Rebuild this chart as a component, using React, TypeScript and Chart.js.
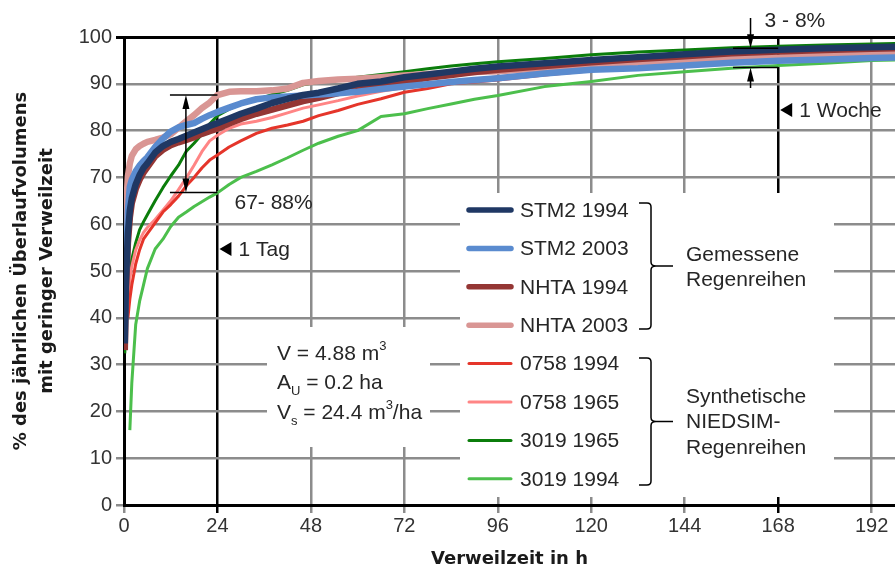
import React, { useEffect, useRef } from 'react';
import { Chart, registerables } from 'chart.js';

Chart.register(...registerables);

// ---------- data ----------
const hours = [0.2, 0.5, 1, 1.5, 2, 3, 4, 5, 6, 8, 10, 12, 14, 16, 18, 20, 22, 24, 27, 30, 34, 38, 42, 46, 50, 55, 60, 66, 72, 78, 84, 90, 96, 108, 120, 132, 144, 156, 168, 180, 192, 198];

const stm2_1994 = [34.5, 48, 58, 63, 65.5, 68.5, 70.5, 72, 73, 75.3, 76.7, 77.6, 78.2, 78.9, 79.6, 80.3, 81, 81.6, 82.6, 83.6, 84.7, 85.9, 86.8, 87.6, 88.1, 89, 90, 90.5, 91.4, 92, 92.6, 93.2, 93.7, 94.4, 95.1, 95.7, 96.3, 96.9, 97.3, 97.6, 97.8, 97.9];
const stm2_2003 = [38, 50, 63, 68, 69.5, 71.3, 72.5, 73.5, 74.3, 76.5, 78.3, 79.8, 80.7, 81.2, 81.6, 82.5, 83.3, 84, 84.9, 85.8, 86.7, 87.1, 87.3, 87.5, 87.7, 88, 88.3, 88.9, 89.4, 89.9, 90.4, 90.8, 91.2, 92.2, 93, 93.3, 93.9, 94.5, 94.9, 95.2, 95.5, 95.6];
const nhta_1994 = [33.1, 46, 56, 61.5, 64.5, 67.5, 69.5, 71, 72.2, 74.5, 75.9, 76.9, 77.5, 78, 78.6, 79.3, 79.9, 80.4, 81.5, 82.5, 83.6, 84.5, 85.4, 86.3, 87, 88, 88.9, 89.7, 90.5, 91.3, 91.9, 92.5, 93, 93.8, 94.6, 95.3, 95.9, 96.5, 96.9, 97.2, 97.5, 97.6];
const nhta_2003 = [57.3, 63, 70.2, 73, 74.6, 76, 76.7, 77.2, 77.6, 78, 78.5, 79.2, 80.6, 82, 83.3, 84.8, 86, 87.6, 88.3, 88.4, 88.4, 88.6, 89, 90.2, 90.6, 90.9, 91.1, 91.4, 91.8, 92.1, 92.3, 92.5, 92.7, 93.3, 94, 94.5, 95, 95.3, 95.6, 96, 96.3, 96.4];
const s0758_1994 = [null, null, 40, 44, 47, 51.5, 54.5, 56.8, 58, 60.3, 62.6, 64.2, 66, 68.2, 70, 72, 73.7, 74.8, 76.5, 77.8, 79.4, 80.5, 81.2, 82, 83.2, 84.3, 85.6, 86.8, 88.2, 89, 90, 90.4, 90.8, 91.9, 92.8, 93.8, 94.5, 95.1, 95.7, 96.2, 96.7, 96.9];
const s0758_1965 = [null, null, 45, 48.5, 51, 54.5, 56.6, 58.2, 59.3, 61, 63, 65, 67.4, 69.9, 72.6, 75.5, 77.8, 79, 80.5, 81.4, 82, 82.8, 83.8, 84.8, 85.5, 86.4, 87.4, 88.4, 89.2, 89.9, 90.5, 91, 91.5, 92.3, 93, 93.6, 94.2, 94.7, 95.1, 95.5, 95.9, 96];
const s3019_1965 = [32.4, 38, 45, 49.5, 52.5, 56, 58.8, 60.5, 62, 65, 67.8, 70.3, 72.6, 75.6, 77.3, 79.2, 81.4, 83.2, 84.6, 85.6, 86.6, 87.7, 88.6, 89.8, 90.4, 90.9, 91.4, 92, 92.6, 93.2, 93.8, 94.3, 94.7, 95.4, 96.2, 96.8, 97.2, 97.7, 98, 98.3, 98.5, 98.6];
const s3019_1994 = [null, null, null, 16, 26, 38.5, 43.5, 47, 50.5, 54.7, 56.8, 59.5, 61.5, 62.6, 63.8, 64.8, 65.8, 66.7, 68.5, 70, 71.3, 72.7, 74.2, 75.8, 77.3, 78.8, 80, 83, 83.6, 84.7, 85.7, 86.7, 87.5, 89.4, 90.5, 91.8, 92.6, 93.3, 93.9, 94.4, 95, 95.1];

const seriesLabels = ['STM2 1994', 'STM2 2003', 'NHTA 1994', 'NHTA 2003', '0758 1994', '0758 1965', '3019 1965', '3019 1994'];
const seriesValues = [stm2_1994, stm2_2003, nhta_1994, nhta_2003, s0758_1994, s0758_1965, s3019_1965, s3019_1994];

const xTicks = [0, 24, 48, 72, 96, 120, 144, 168, 192];
const yTicks = [0, 10, 20, 30, 40, 50, 60, 70, 80, 90, 100];
const markerHours = [24, 168];

const groupLabels = [['Gemessene', 'Regenreihen'], ['Synthetische', 'NIEDSIM-', 'Regenreihen']];

// ---------- styles ----------
const seriesColors = ['#1f3864', '#5a8bcf', '#943634', '#d99694', '#e5352a', '#ff8585', '#0b7d0b', '#4cbf4c'];
const seriesWidths = [6.5, 6.5, 6.5, 6.5, 3, 3, 3, 3];
const legendWidths = [5.5, 5.5, 5.5, 5.5, 3, 3, 3, 3];
const GRAY = '#8c8c8c';
const TXT = '#262626';
const FONT = '"Liberation Sans", Arial, sans-serif';
const BOLD = '"DejaVu Sans", sans-serif';

function arrowHead(ctx: CanvasRenderingContext2D, x: number, tipY: number, dir: number) {
  // dir = -1 -> points up, 1 -> points down
  ctx.beginPath();
  ctx.moveTo(x, tipY);
  ctx.lineTo(x - 3.5, tipY - dir * 14);
  ctx.lineTo(x + 3.5, tipY - dir * 14);
  ctx.closePath();
  ctx.fill();
}

function brace(ctx: CanvasRenderingContext2D, x: number, y1: number, y2: number, stubX: number, tipX: number) {
  const ym = (y1 + y2) / 2;
  ctx.beginPath();
  ctx.moveTo(stubX, y1);
  ctx.lineTo(x - 4, y1);
  ctx.quadraticCurveTo(x, y1, x, y1 + 4);
  ctx.lineTo(x, ym - 4);
  ctx.quadraticCurveTo(x, ym, x + 5, ym);
  ctx.lineTo(tipX, ym);
  ctx.moveTo(x + 5, ym);
  ctx.quadraticCurveTo(x, ym, x, ym + 4);
  ctx.lineTo(x, y2 - 4);
  ctx.quadraticCurveTo(x, y2, x - 4, y2);
  ctx.lineTo(stubX, y2);
  ctx.stroke();
}

const overlayPlugin = {
  id: 'overlay',
  beforeDatasetsDraw(chart: any) {
    const ctx: CanvasRenderingContext2D = chart.ctx;
    ctx.save();
    ctx.fillStyle = '#ffffff';
    // legend panel
    ctx.fillRect(460, 193, 374, 304);
    // parameter text panel
    ctx.fillRect(267, 327, 163, 120);
    ctx.restore();
  },
  afterDatasetsDraw(chart: any) {
    const ctx: CanvasRenderingContext2D = chart.ctx;
    const xs = chart.scales.x;
    const ys = chart.scales.y;
    ctx.save();
    ctx.fillStyle = TXT;
    ctx.strokeStyle = '#000';
    ctx.textBaseline = 'middle';
    ctx.textAlign = 'left';

    // legend
    chart.data.datasets.forEach((ds: any, i: number) => {
      const y = 210 + i * 38.4;
      ctx.beginPath();
      ctx.lineCap = 'round';
      ctx.lineWidth = legendWidths[i];
      ctx.strokeStyle = ds.borderColor;
      ctx.moveTo(469, y);
      ctx.lineTo(511, y);
      ctx.stroke();
      ctx.font = `21px ${FONT}`;
      ctx.fillStyle = TXT;
      ctx.fillText(ds.label, 520, y + 1);
    });
    ctx.lineCap = 'butt';

    // braces
    ctx.strokeStyle = '#000';
    ctx.lineWidth = 1.5;
    brace(ctx, 651, 203, 329, 639, 673);
    brace(ctx, 651, 358, 485, 639, 673);
    ctx.font = `21px ${FONT}`;
    ctx.fillStyle = TXT;
    groupLabels[0].forEach((t, i) => ctx.fillText(t, 686, 255 + i * 25.5));
    groupLabels[1].forEach((t, i) => ctx.fillText(t, 686, 397 + i * 25.5));

    // parameter text
    const drawRuns = (runs: [string, string][], x: number, y: number) => {
      let cx = x;
      for (const [t, kind] of runs) {
        if (kind === 'n') {
          ctx.font = `21px ${FONT}`;
          ctx.fillText(t, cx, y);
        } else if (kind === 'sup') {
          ctx.font = `13px ${FONT}`;
          ctx.fillText(t, cx, y - 8);
        } else {
          ctx.font = `13px ${FONT}`;
          ctx.fillText(t, cx, y + 8);
        }
        cx += ctx.measureText(t).width;
      }
    };
    drawRuns([['V = 4.88 m', 'n'], ['3', 'sup']], 277, 354);
    drawRuns([['A', 'n'], ['U', 'sub'], [' = 0.2 ha', 'n']], 277, 383);
    drawRuns([['V', 'n'], ['s', 'sub'], [' = 24.4 m', 'n'], ['3', 'sup'], ['/ha', 'n']], 277, 413);

    // "1 Tag" and "1 Woche" markers
    ctx.fillStyle = '#000';
    const drawMarker = (h: number, yc: number, text: string) => {
      const x = xs.getPixelForValue(h) + 2;
      ctx.beginPath();
      ctx.moveTo(x, yc);
      ctx.lineTo(x + 12, yc - 7);
      ctx.lineTo(x + 12, yc + 7);
      ctx.closePath();
      ctx.fillStyle = '#000';
      ctx.fill();
      ctx.font = `21px ${FONT}`;
      ctx.fillStyle = TXT;
      ctx.fillText(text, x + 19, yc + 1);
    };
    drawMarker(markerHours[0], 249, '1 Tag');
    drawMarker(markerHours[1], 110, '1 Woche');

    // 67 - 88 % range
    ctx.strokeStyle = '#000';
    ctx.fillStyle = '#000';
    ctx.lineWidth = 1.5;
    const ax0 = xs.getPixelForValue(11.8), ax1 = xs.getPixelForValue(24), axm = xs.getPixelForValue(15.9);
    const ay1 = ys.getPixelForValue(87.6), ay2 = ys.getPixelForValue(66.8);
    ctx.beginPath();
    ctx.moveTo(ax0, ay1); ctx.lineTo(ax1, ay1);
    ctx.moveTo(ax0, ay2); ctx.lineTo(ax1, ay2);
    ctx.moveTo(axm, ay1 + 10); ctx.lineTo(axm, ay2 - 10);
    ctx.stroke();
    arrowHead(ctx, axm, ay1, -1);
    arrowHead(ctx, axm, ay2, 1);
    ctx.font = `21px ${FONT}`;
    ctx.fillStyle = TXT;
    ctx.fillText('67- 88%', ax1 + 17, ay2 + 11);

    // 3 - 8 % range
    ctx.fillStyle = '#000';
    const bx0 = xs.getPixelForValue(156.4), bx1 = xs.getPixelForValue(168), bxm = xs.getPixelForValue(160.9);
    const by1 = ys.getPixelForValue(97.6), by2 = ys.getPixelForValue(93.5);
    ctx.beginPath();
    ctx.moveTo(bx0, by1); ctx.lineTo(bx1, by1);
    ctx.moveTo(bx0, by2); ctx.lineTo(bx1, by2);
    ctx.moveTo(bxm, 18); ctx.lineTo(bxm, by1 - 8);
    ctx.moveTo(bxm, by2 + 8); ctx.lineTo(bxm, 88);
    ctx.stroke();
    arrowHead(ctx, bxm, by1, 1);
    arrowHead(ctx, bxm, by2, -1);
    ctx.font = `21px ${FONT}`;
    ctx.fillStyle = TXT;
    ctx.fillText('3 - 8%', bxm + 14, 21);

    ctx.restore();
  },
};

export default function App() {
  const ref = useRef<HTMLCanvasElement>(null);
  useEffect(() => {
    const datasets = seriesLabels.map((label, i) => ({
      label,
      data: hours
        .map((h, j) => ({ x: h, y: seriesValues[i][j] }))
        .filter((p) => p.y !== null && p.y !== undefined),
      borderColor: seriesColors[i],
      backgroundColor: seriesColors[i],
      borderWidth: seriesWidths[i],
      pointRadius: 0,
      tension: 0,
      fill: false,
      borderJoinStyle: 'round' as const,
    }));
    const chart = new Chart(ref.current as HTMLCanvasElement, {
      type: 'line',
      data: { datasets },
      options: {
        responsive: false,
        devicePixelRatio: 1,
        animation: false,
        layout: { padding: { top: 37, right: 0, left: 0, bottom: 0 } },
        plugins: { legend: { display: false }, tooltip: { enabled: false } },
        scales: {
          x: {
            type: 'linear',
            min: 0,
            max: 198,
            afterBuildTicks: (s: any) => {
              s.ticks = xTicks.map((v) => ({ value: v }));
            },
            afterFit: (s: any) => {
              s.height = 67;
            },
            grid: {
              color: (c: any) => (c.tick && markerHours.includes(c.tick.value) ? '#000' : GRAY),
              lineWidth: 2.5,
              tickLength: 8,
            },
            border: { color: '#000', width: 3 },
            ticks: { font: { family: FONT, size: 20 }, color: '#333', padding: 1, maxRotation: 0, autoSkip: false },
            title: {
              display: true,
              text: 'Verweilzeit in h',
              font: { family: BOLD, size: 18, weight: 'bold' },
              color: '#1a1a1a',
              padding: { top: 0, bottom: 2 },
            },
          },
          y: {
            type: 'linear',
            min: 0,
            max: 100,
            afterBuildTicks: (s: any) => {
              s.ticks = yTicks.map((v) => ({ value: v }));
            },
            afterFit: (s: any) => {
              s.width = 124;
            },
            grid: {
              color: (c: any) => (c.tick && c.tick.value === 100 ? '#000' : GRAY),
              lineWidth: (c: any) => (c.tick && c.tick.value === 100 ? 3 : 2.5),
              tickLength: 8,
            },
            border: { color: '#000', width: 3 },
            ticks: { font: { family: FONT, size: 20 }, color: '#333', padding: 4 },
            title: {
              display: true,
              text: ['% des jährlichen Überlaufvolumens', 'mit geringer Verweilzeit'],
              font: { family: BOLD, size: 18, weight: 'bold', lineHeight: 1.45 },
              color: '#1a1a1a',
              padding: { top: 8, bottom: 0 },
            },
          },
        },
      },
      plugins: [overlayPlugin],
    } as any);
    return () => chart.destroy();
  }, []);
  return (
    <div style={{ position: 'fixed', left: 0, top: 0, width: 895, height: 572, background: '#fff' }}>
      <canvas ref={ref} width={895} height={572} style={{ display: 'block', width: 895, height: 572 }} />
    </div>
  );
}
